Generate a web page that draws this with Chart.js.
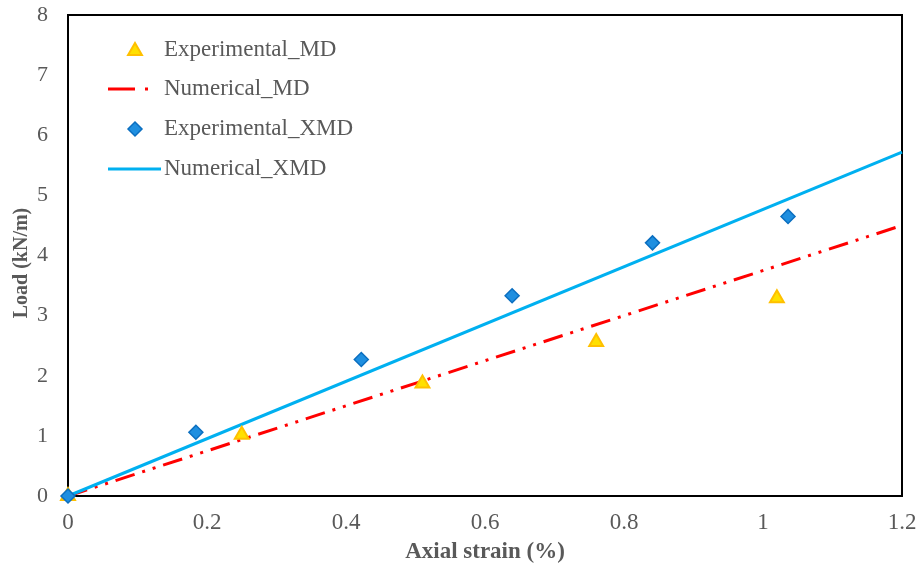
<!DOCTYPE html>
<html>
<head>
<meta charset="utf-8">
<script src="https://cdn.jsdelivr.net/npm/chart.js@4/dist/chart.umd.min.js"></script>
<style>
  html, body { margin: 0; padding: 0; background: #fff; }
  #wrap { width: 919px; height: 565px; position: relative; }
</style>
</head>
<body>
<div id="wrap"><canvas id="loadChart"></canvas></div>
<script>
// données
const xTicks = [0, 0.2, 0.4, 0.6, 0.8, 1, 1.2];
const xTickLabels = ['0', '0.2', '0.4', '0.6', '0.8', '1', '1.2'];
const yTickLabels = ['0', '1', '2', '3', '4', '5', '6', '7', '8'];

const expMdStrain = [0, 0.25, 0.51, 0.76, 1.02];
const expMdLoad = [0, 1.02, 1.87, 2.56, 3.29];

const expXmdStrain = [0, 0.184, 0.422, 0.639, 0.841, 1.036];
const expXmdLoad = [0, 1.06, 2.27, 3.33, 4.21, 4.65];

const numStrain = [0, 1.2];
const numMdLoad = [0, 4.5];
const numXmdLoad = [0, 5.72];

const seriesNames = ['Experimental_MD', 'Numerical_MD', 'Experimental_XMD', 'Numerical_XMD'];

const greyText = '#595959';
const serif = '"Liberation Serif", "Times New Roman", serif';
const mdDash = [20, 8, 3, 8, 3, 8];

function toPoints(xs, ys) {
  return xs.map((x, i) => ({ x: x, y: ys[i] }));
}

// --- dessin des marqueurs de la légende
function drawTriangle(ctx, x, y, r) {
  ctx.beginPath();
  ctx.moveTo(x, y - r);
  ctx.lineTo(x + r * 0.866, y + r * 0.5);
  ctx.lineTo(x - r * 0.866, y + r * 0.5);
  ctx.closePath();
  ctx.fillStyle = '#FFE000';
  ctx.fill();
  ctx.lineWidth = 2;
  ctx.strokeStyle = '#FFC000';
  ctx.stroke();
}
function drawDiamond(ctx, x, y, r) {
  ctx.beginPath();
  ctx.moveTo(x, y - r);
  ctx.lineTo(x + r, y);
  ctx.lineTo(x, y + r);
  ctx.lineTo(x - r, y);
  ctx.closePath();
  ctx.fillStyle = '#1F8FE0';
  ctx.fill();
  ctx.lineWidth = 1.5;
  ctx.strokeStyle = '#0B6FC0';
  ctx.stroke();
}

const framePlugin = {
  id: 'frame',
  beforeDatasetsDraw(chart) {
    const a = chart.chartArea;
    const ctx = chart.ctx;
    ctx.save();
    ctx.strokeStyle = '#000';
    ctx.lineWidth = 2;
    ctx.strokeRect(a.left, a.top, a.right - a.left, a.bottom - a.top);
    ctx.restore();
  },
  afterDraw(chart) {
    const ctx = chart.ctx;
    const rows = [50, 89, 129, 169];
    ctx.save();
    // marqueurs
    drawTriangle(ctx, 135, rows[0] + 1, 8);
    ctx.beginPath();
    ctx.setLineDash([27, 10, 3, 20]);
    ctx.strokeStyle = '#FF0000';
    ctx.lineWidth = 3;
    ctx.moveTo(108, rows[1]);
    ctx.lineTo(150, rows[1]);
    ctx.stroke();
    ctx.setLineDash([]);
    drawDiamond(ctx, 135, rows[2], 7);
    ctx.beginPath();
    ctx.strokeStyle = '#00B0F0';
    ctx.lineWidth = 3;
    ctx.moveTo(108, rows[3]);
    ctx.lineTo(161, rows[3]);
    ctx.stroke();
    // textes
    ctx.fillStyle = greyText;
    ctx.font = '23px ' + serif;
    ctx.textBaseline = 'middle';
    ctx.textAlign = 'left';
    seriesNames.forEach((name, i) => {
      ctx.fillText(name, 164, rows[i]);
    });
    ctx.restore();
  }
};

const ctx = document.getElementById('loadChart').getContext('2d');
new Chart(ctx, {
  type: 'scatter',
  data: {
    datasets: [
      {
        label: seriesNames[1],
        data: toPoints(numStrain, numMdLoad),
        showLine: true,
        borderColor: '#FF0000',
        borderWidth: 3,
        borderDash: mdDash,
        pointRadius: 0,
        clip: false,
        order: 3
      },
      {
        label: seriesNames[3],
        data: toPoints(numStrain, numXmdLoad),
        showLine: true,
        borderColor: '#00B0F0',
        borderWidth: 3,
        pointRadius: 0,
        clip: false,
        order: 2
      },
      {
        label: seriesNames[0],
        data: toPoints(expMdStrain, expMdLoad),
        pointStyle: 'triangle',
        pointRadius: 8,
        pointBackgroundColor: '#FFE000',
        pointBorderColor: '#FFC000',
        pointBorderWidth: 2,
        clip: false,
        order: 1
      },
      {
        label: seriesNames[2],
        data: toPoints(expXmdStrain, expXmdLoad),
        pointStyle: 'rectRot',
        pointRadius: 7,
        pointBackgroundColor: '#1F8FE0',
        pointBorderColor: '#0B6FC0',
        pointBorderWidth: 1.5,
        clip: false,
        order: 0
      }
    ]
  },
  options: {
    responsive: true,
    maintainAspectRatio: false,
    animation: false,
    layout: { padding: { left: 0, right: 17, top: 15, bottom: 0 } },
    plugins: {
      legend: { display: false },
      tooltip: { enabled: false }
    },
    scales: {
      x: {
        type: 'linear',
        min: 0,
        max: 1.2,
        afterBuildTicks: (scale) => { scale.ticks = xTicks.map(v => ({ value: v })); },
        afterFit: (scale) => {
          scale.height = 69;
          scale.paddingLeft = 0;
          scale.paddingRight = 0;
        },
        grid: { display: false, drawTicks: false },
        border: { display: false },
        ticks: {
          padding: 13,
          color: greyText,
          font: { family: serif, size: 23 },
          maxRotation: 0,
          callback: (v, i) => xTickLabels[i]
        },
        title: {
          display: true,
          text: 'Axial strain (%)',
          color: greyText,
          font: { family: serif, size: 23, weight: 'bold', lineHeight: 1 },
          padding: { top: 0, bottom: 1 }
        }
      },
      y: {
        type: 'linear',
        min: 0,
        max: 8,
        ticks: {
          stepSize: 1,
          padding: 20,
          color: greyText,
          font: { family: serif, size: 22 },
          callback: (v) => yTickLabels[v]
        },
        afterFit: (scale) => {
          scale.width = 68;
          scale.paddingTop = 0;
          scale.paddingBottom = 0;
        },
        grid: { display: false, drawTicks: false },
        border: { display: false },
        title: {
          display: true,
          text: 'Load (kN/m)   ',
          color: greyText,
          font: { family: serif, size: 20, weight: 'bold', lineHeight: 1 },
          padding: { top: 12, bottom: 0 }
        }
      }
    }
  },
  plugins: [framePlugin]
});
</script>
</body>
</html>
